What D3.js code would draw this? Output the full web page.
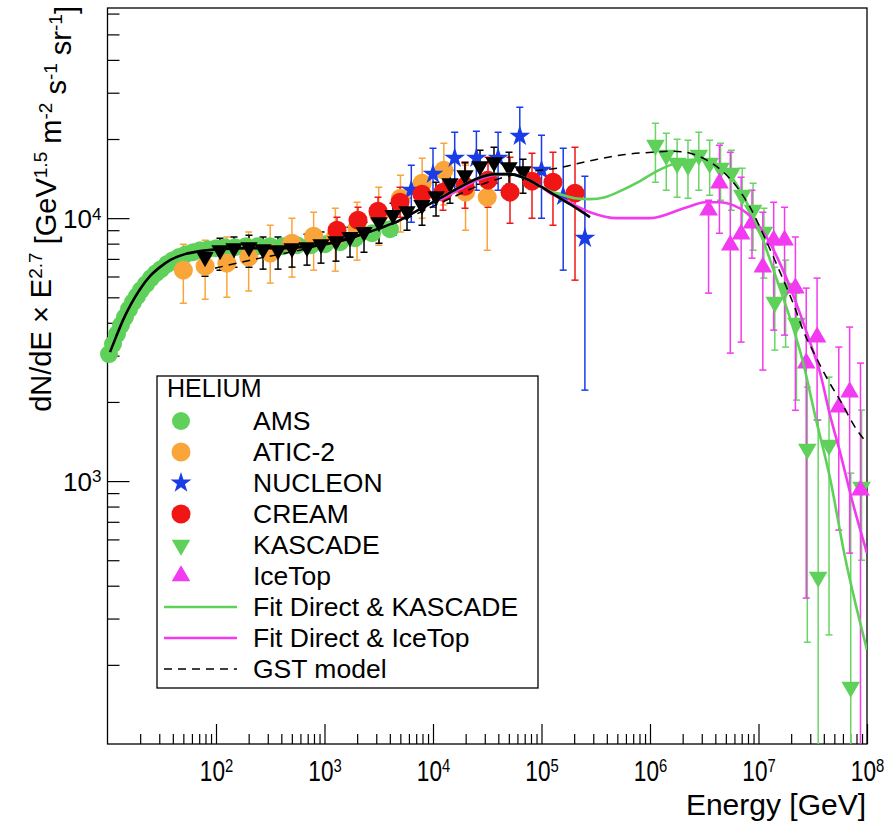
<!DOCTYPE html>
<html>
<head>
<meta charset="utf-8">
<script src="https://cdn.jsdelivr.net/npm/d3@7"></script>
<style>
  body { margin: 0; background: #fff; }
  svg { display: block; }
  text { font-family: "Liberation Sans", Arial, Helvetica, sans-serif; fill: #000; }
</style>
</head>
<body>
<svg id="chart" width="886" height="822"></svg>
<script>
// ---------------- data: [E (GeV), flux] or [E, flux, fluxLow, fluxHigh] ----------------
const ams = [[10.32,3040],[11.24,3319],[12.23,3623],[13.32,3920],[14.50,4204],[15.79,4508],[17.18,4793],
  [18.71,5050],[20.36,5325],[22.63,5611],[25.17,5915],[27.99,6179],[31.12,6399],[35.35,6687],[40.16,6923],
  [45.60,7109],[52.90,7298],[61.38,7426],[71.21,7556],[84.40,7623],[100,7690],[121.0,7757],[149.7,7757],
  [189.0,7826],[243.8,7826],[314.6,7826],[414.4,7826],[557.9,7895],[750.9,7895],[1011,7965],[1390,8106],
  [1911,8395],[2741,8770],[4015,9083]];

const atic2 = [[50,6343,4751,7965],[79.4,6569,4920,8249],[126,6744,5007,8470],[200,7109,5279,8849],
  [316,7362,5663,9406],[501,8035,5967,10000],[794,8544,6343,10540],[1259,8470,6288,10910],
  [1995,9162,6923,11500],[3162,10270,7895,13120],[5012,11910,8849,14570],[7943,13590,10000,16910],
  [12590,15220,11210,19280],[19950,12560,9004,15910],[31620,12020,7556,14960]];

const nucleon = [[6310,12780,9656,15910],[10000,14700,11010,18460],[15850,16910,12780,21230],
  [25120,16910,12780,21420],[39810,16910,12780,21230],[63100,20500,15220,26430],[100000,15220,10000,20680],
  [158500,12120,6343,18460],[251200,8390,2218,14440]];

const cream = [[1304,9004,8035,10090],[2036,9826,8770,11010],[3113,10630,9406,12020],[4966,11500,10090,13120],
  [7917,12340,10720,14190],[12370,12560,10720,14570],[19720,13230,10910,16190],[32130,13950,11010,17060],
  [51250,12560,9572,17060],[81730,13830,10000,17670],[127600,13710,9406,17820],[203600,12450,5811,18620]];

const directTri = [[79.2,7109,6018,8035],[108.9,7556,6343,8395],[146.5,7690,6512,8470],[201.4,7757,6512,8619],
  [271.3,7623,6399,8470],[372.8,7556,6399,8470],[501.8,7690,6512,8544],[689.7,7757,6627,8694],
  [928.4,7965,6744,8849],[1276,8177,6863,9083],[1718,8470,7109,9243],[2313,8849,7426,9656],
  [3179,9656,8035,10720],[4279,10270,8619,11400],[5761,10630,9004,11910],[7917,11210,9406,12560],
  [10660,12120,10180,13710],[14340,13590,11400,15220],[19720,14570,12230,16330],[27120,15770,13470,18140],
  [36490,16330,13590,18620],[50180,15630,13470,17820],[67520,15090,12450,16760]];

const kascade = [[1.122e6,18950,13710,22980],[1.413e6,17360,12780,21050],[1.778e6,16190,12020,19970],
  [2.239e6,15910,11910,19800],[2.818e6,17360,12780,21230],[3.548e6,16190,12230,19800],[4.467e6,15490,11710,19280],
  [5.623e6,14830,10720,18140],[7.079e6,12230,8849,15490],[8.913e6,10720,7556,13590],[1.122e7,8849,5915,10910],
  [1.413e7,4793,3149,6512],[1.778e7,5419,3233,6923],[2.239e7,3989,2032,5187],[2.818e7,1323,244,2278],
  [3.548e7,431.5,50,1706],[4.467e7,1371,260,2486],[7.079e7,164.7,50,1072],[8.913e7,948.8,500,1862]];

const icetop = [[3.467e6,10720,5187,11710],[4.365e6,13590,8770,18950],[5.495e6,7895,3067,17820],
  [6.918e6,8694,3378,14320],[8.710e6,9572,7046,12780],[1.096e7,6512,2643,10540],[1.380e7,8249,3751,11500],
  [1.738e7,8249,3590,11010],[2.188e7,5419,1859,8470],[2.754e7,2810,359,5419],[3.467e7,3528,1706,5915],
  [5.495e7,1911,651,3233],[6.918e7,2180,532,3852],[8.710e7,924,50,2810]];

// fitted / model curves: [E, flux]
const fitDirect = [[10.54,3094],[11.97,3528],[13.90,4095],[16.47,4710],[19.93,5370],[24.65,6019],[30.47,6512],
  [37.67,6923],[51.80,7298],[71.21,7491],[108.9,7623],[205.8,7690],[388.9,7690],[735.3,7826],[1390,8177],
  [2124,8619],[3247,9162],[4966,9826],[7591,10820],[11600,11910],[17740,13120],[25980,14190],[37280,14700],
  [51250,14700],[70460,14190],[96880,13230],[133200,12230],[183100,11300],[279900,10090]];

const fitKascade = [[11600,11910],[17740,13120],[25980,14190],[37280,14700],[51250,14700],[70460,14190],
  [96880,13230],[119800,12670],[148100,12340],[203600,11910],[279900,11810],[384800,12020],[529000,12670],
  [808800,13830],[1.112e6,14960],[1.529e6,15910],[2.193e6,16620],[3.080e6,16760],[4.145e6,16050],
  [5.462e6,14570],[6.753e6,12780],[8.350e6,10820],[1.100e7,8249],[1.481e7,5811],[1.952e7,4167],
  [2.572e7,2835],[3.317e7,1782],[4.560e7,1027],[6.270e7,514],[1e8,227.8]];

const fitIcetop = [[11600,11700],[17740,12900],[25980,14000],[37280,14600],[51250,14700],[70460,14190],
  [96880,13230],[119800,12450],[171800,11600],[279900,10540],[496500,10000],[1.0e6,10000],[2.193e6,11010],
  [3.213e6,11500],[4.418e6,11500],[5.821e6,11210],[7.834e6,10450],[1.032e7,9243],[1.276e7,8035],
  [1.682e7,6343],[2.263e7,4669],[2.983e7,3378],[3.688e7,2588],[4.560e7,1782],[5.639e7,1289],[7.275e7,847],
  [1e8,532]];

const gstModel = [[97.9,6455],[254.4,7046],[594.6,7556],[1718,8470],[4966,9741],[11600,11400],[27120,13350],
  [63360,14830],[139000,15490],[298300,16620],[529000,17360],[1.066e6,17820],[1.629e6,17980],[2.338e6,17670],
  [3.213e6,16760],[4.418e6,15360],[6.338e6,13120],[8.350e6,11010],[1.148e7,8395],[1.579e7,6233],
  [2.170e7,4549],[2.572e7,3751],[3.317e7,3014],[4.371e7,2421],[5.639e7,2032],[8.088e7,1563],[1e8,1395]];

const xMajorTicks = [1e2,1e3,1e4,1e5,1e6,1e7,1e8];
const yMajorTicks = [1e3,1e4];

const legendEntries = ["AMS","ATIC-2","NUCLEON","CREAM","KASCADE","IceTop",
  "Fit Direct & KASCADE","Fit Direct & IceTop","GST model"];

// ---------------- drawing ----------------
const C = { green:"#5fd15a", orange:"#f9a53a", blue:"#1a3ce6", red:"#f01616", magenta:"#f23af0", black:"#000" };
const SIZE = { star: 135, tri: 150, triBlack: 130 };

const svg = d3.select("#chart");
const L = 107.5, R = 867, T = 8, B = 744;
const x = d3.scaleLog().domain([10,1e8]).range([L,R]);
const y = d3.scaleLog().domain([100,63000]).range([B,T]).clamp(true);

svg.append("defs").append("clipPath").attr("id","plotArea")
  .append("rect").attr("x",L).attr("y",T).attr("width",R-L).attr("height",B-T);

// axes (ticks pointing inwards)
const xMinor = [];
for (let k = 1; k < 8; k++) for (let m = 2; m < 10; m++) xMinor.push(m*10**k);
const yMinor = [];
for (let k = 2; k < 5; k++) for (let m = 2; m < 10; m++) { const v = m*10**k; if (v < 63000) yMinor.push(v); }

const gxMinor = svg.append("g").attr("transform",`translate(0,${B})`)
  .call(d3.axisBottom(x).tickValues(xMinor).tickSize(-10).tickSizeOuter(0).tickFormat(""));
const gx = svg.append("g").attr("transform",`translate(0,${B})`)
  .call(d3.axisBottom(x).tickValues(xMajorTicks).tickSize(-20).tickSizeOuter(0));
const gyMinor = svg.append("g").attr("transform",`translate(${L},0)`)
  .call(d3.axisLeft(y).tickValues(yMinor).tickSize(-12).tickSizeOuter(0).tickFormat(""));
const gy = svg.append("g").attr("transform",`translate(${L},0)`)
  .call(d3.axisLeft(y).tickValues(yMajorTicks).tickSize(-22).tickSizeOuter(0));

[gxMinor,gx,gyMinor,gy].forEach(g => {
  g.select(".domain").remove();
  g.selectAll(".tick line").attr("stroke","#000").attr("stroke-width",1.2);
});

function powerLabel(sel, supSize) {
  sel.each(function(d) {
    const t = d3.select(this);
    t.text(null);
    t.append("tspan").text("10");
    t.append("tspan").attr("dy","-0.5em").attr("font-size",supSize).text(Math.round(Math.log10(d)));
  });
}
gx.selectAll(".tick text").attr("y",0).attr("dy",0).attr("font-size",29)
  .attr("transform","translate(0,37) scale(0.78,1)")
  .attr("font-family",'"Liberation Sans", Arial, sans-serif').attr("fill","#000")
  .call(powerLabel, 19);
gy.selectAll(".tick text").attr("x",-6).attr("dy","0.36em").attr("font-size",26)
  .attr("font-family",'"Liberation Sans", Arial, sans-serif').attr("fill","#000")
  .call(powerLabel, 17);

// frame
svg.append("rect").attr("x",L).attr("y",T).attr("width",R-L).attr("height",B-T)
  .attr("fill","none").attr("stroke","#000").attr("stroke-width",1.3);

// axis titles
svg.append("text").attr("x",866).attr("y",815).attr("text-anchor","end").attr("font-size",30)
  .text("Energy [GeV]");
const yt = svg.append("text").attr("transform","translate(51,6) rotate(-90)")
  .attr("text-anchor","end").attr("font-size",29);
yt.append("tspan").text("dN/dE \u00d7 E");
yt.append("tspan").attr("dy","-0.5em").attr("font-size",19).text("2.7");
yt.append("tspan").attr("dy","0.5em").text(" [GeV");
yt.append("tspan").attr("dy","-0.5em").attr("font-size",19).text("1.5");
yt.append("tspan").attr("dy","0.5em").text(" m");
yt.append("tspan").attr("dy","-0.5em").attr("font-size",19).text("-2");
yt.append("tspan").attr("dy","0.5em").text(" s");
yt.append("tspan").attr("dy","-0.5em").attr("font-size",19).text("-1");
yt.append("tspan").attr("dy","0.5em").text(" sr");
yt.append("tspan").attr("dy","-0.5em").attr("font-size",19).text("-1");
yt.append("tspan").attr("dy","0.5em").text("]");

// error bars
const clipped = svg.append("g").attr("clip-path","url(#plotArea)");
function errorBars(data, color, capW = 7, width = 1.5) {
  const g = clipped.append("g").attr("stroke",color).attr("stroke-width",width);
  g.selectAll("line.v").data(data).enter().append("line")
    .attr("x1",d=>x(d[0])).attr("x2",d=>x(d[0])).attr("y1",d=>y(d[2])).attr("y2",d=>y(d[3]));
  g.selectAll("line.hi").data(data).enter().append("line")
    .attr("x1",d=>x(d[0])-capW/2).attr("x2",d=>x(d[0])+capW/2).attr("y1",d=>y(d[3])).attr("y2",d=>y(d[3]));
  g.selectAll("line.lo").data(data.filter(d=>d[2] >= 100)).enter().append("line")
    .attr("x1",d=>x(d[0])-capW/2).attr("x2",d=>x(d[0])+capW/2).attr("y1",d=>y(d[2])).attr("y2",d=>y(d[2]));
}

const marks = svg.append("g");
function circles(data, color, r = 9) {
  marks.append("g").selectAll("circle").data(data).enter().append("circle")
    .attr("cx",d=>x(d[0])).attr("cy",d=>y(d[1])).attr("r",r).attr("fill",color);
}
function symbols(data, color, type, size, rot = 0) {
  const sym = d3.symbol().type(type).size(size);
  marks.append("g").selectAll("path").data(data).enter().append("path")
    .attr("d",sym).attr("fill",color)
    .attr("transform",d=>`translate(${x(d[0])},${y(d[1])}) rotate(${rot})`);
}

// AMS
circles(ams, C.green, 9);
// ATIC-2
errorBars(atic2, C.orange);
circles(atic2, C.orange, 9.5);
// NUCLEON
errorBars(nucleon, C.blue);
symbols(nucleon, C.blue, d3.symbolStar, SIZE.star);
// CREAM
errorBars(cream, C.red);
circles(cream, C.red, 9.5);
// combined direct points
errorBars(directTri, C.black);
symbols(directTri, C.black, d3.symbolTriangle, SIZE.triBlack, 180);
// KASCADE
errorBars(kascade, "#6ad565");
symbols(kascade, C.green, d3.symbolTriangle, SIZE.tri, 180);
// IceTop
errorBars(icetop, C.magenta);
symbols(icetop, C.magenta, d3.symbolTriangle, SIZE.tri, 0);

// curves
const line = d3.line().x(d=>x(d[0])).y(d=>y(d[1])).curve(d3.curveMonotoneX);
const curves = svg.append("g").attr("clip-path","url(#plotArea)").attr("fill","none");
curves.append("path").attr("d",line(fitIcetop)).attr("stroke",C.magenta).attr("stroke-width",2.6);
curves.append("path").attr("d",line(fitKascade)).attr("stroke",C.green).attr("stroke-width",2.6);
curves.append("path").attr("d",line(fitDirect)).attr("stroke",C.black).attr("stroke-width",2.6);
curves.append("path").attr("d",line(gstModel)).attr("stroke",C.black).attr("stroke-width",1.5)
  .attr("stroke-dasharray","8,6");

// legend
const lg = svg.append("g");
lg.append("rect").attr("x",157).attr("y",376).attr("width",381).attr("height",312)
  .attr("fill","#fff").attr("stroke","#000").attr("stroke-width",1.3);
lg.append("text").attr("x",167).attr("y",397).attr("font-size",25).text("HELIUM");
const rowY = i => 421 + i*31;
const lx = 181, tx = 253;
const legendDraw = [
  g => g.append("circle").attr("cx",lx).attr("cy",0).attr("r",9).attr("fill",C.green),
  g => g.append("circle").attr("cx",lx).attr("cy",0).attr("r",9.5).attr("fill",C.orange),
  g => g.append("path").attr("d",d3.symbol().type(d3.symbolStar).size(SIZE.star)).attr("transform",`translate(${lx},0)`).attr("fill",C.blue),
  g => g.append("circle").attr("cx",lx).attr("cy",0).attr("r",9.5).attr("fill",C.red),
  g => g.append("path").attr("d",d3.symbol().type(d3.symbolTriangle).size(SIZE.tri)).attr("transform",`translate(${lx},0) rotate(180)`).attr("fill",C.green),
  g => g.append("path").attr("d",d3.symbol().type(d3.symbolTriangle).size(SIZE.tri)).attr("transform",`translate(${lx},0)`).attr("fill",C.magenta),
  g => g.append("line").attr("x1",164).attr("x2",237).attr("stroke",C.green).attr("stroke-width",2.6),
  g => g.append("line").attr("x1",164).attr("x2",237).attr("stroke",C.magenta).attr("stroke-width",2.6),
  g => g.append("line").attr("x1",164).attr("x2",237).attr("stroke","#000").attr("stroke-width",1.5).attr("stroke-dasharray","8,6")
];
legendEntries.forEach((name, i) => {
  const g = lg.append("g").attr("transform",`translate(0,${rowY(i)})`);
  legendDraw[i](g);
  g.append("text").attr("x",tx).attr("y",9).attr("font-size",26.5).text(name);
});
</script>
</body>
</html>
